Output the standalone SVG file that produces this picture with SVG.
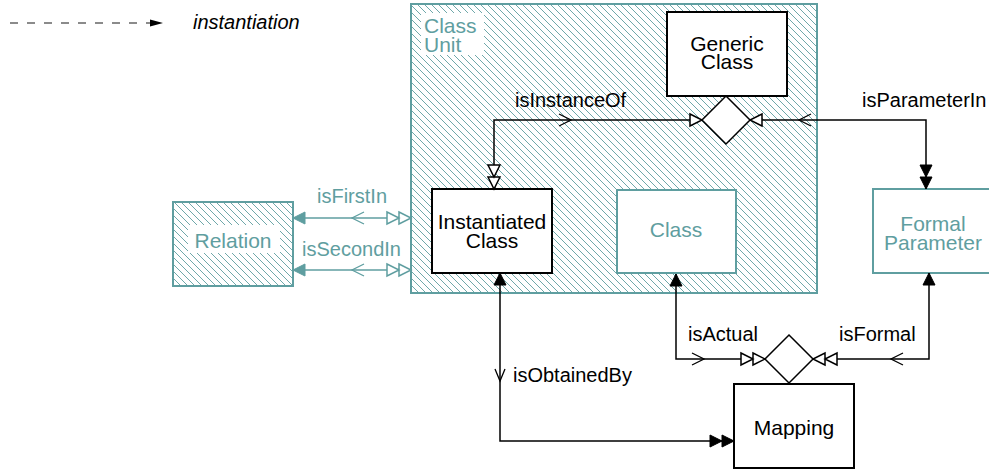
<svg xmlns="http://www.w3.org/2000/svg" width="989" height="473" viewBox="0 0 989 473">
  <defs>
    <style>
      text { font-family: "Liberation Sans", Arial, sans-serif; }
      .node { font-size: 21px; text-anchor: middle; }
      .lbl { font-size: 20px; }
      .dark { fill: #000; }
      .teal { fill: #5f9ea0; }
      .box { fill: #fff; stroke: #000; stroke-width: 2; }
      .tbox { fill: #fff; stroke: #5f9ea0; stroke-width: 2; }
      .hbox { fill: url(#hatch); stroke: #5f9ea0; stroke-width: 2; }
      .wire { fill: none; stroke: #000; stroke-width: 1.5; }
      .twire { fill: none; stroke: #5f9ea0; stroke-width: 1.5; }
      .chev { fill: none; stroke: #000; stroke-width: 1.3; }
      .tchev { fill: none; stroke: #5f9ea0; stroke-width: 1.3; }
      .legend { fill: none; stroke: #666; stroke-width: 1.5; stroke-dasharray: 8 9; }
    </style>
    <pattern id="hatch" patternUnits="userSpaceOnUse" width="7" height="7">
      <rect width="7" height="7" fill="#fff"/>
      <path d="M-1,-1 L8,8 M-1,6 L1,8 M6,-1 L8,1" stroke="#5f9ea0" stroke-width="0.9"/>
    </pattern>
    <!-- association end markers -->
    <marker id="hollow" markerUnits="userSpaceOnUse" orient="auto-start-reverse" overflow="visible" markerWidth="1" markerHeight="1" refX="0" refY="0">
      <path d="M-12,-6 L0,0 L-12,6 Z" fill="#fff" stroke="#000" stroke-width="1.5"/>
    </marker>
    <marker id="hollow2" markerUnits="userSpaceOnUse" orient="auto-start-reverse" overflow="visible" markerWidth="1" markerHeight="1" refX="0" refY="0">
      <path d="M-12,-6 L0,0 L-12,6 Z M-24,-6 L-12,0 L-24,6 Z" fill="#fff" stroke="#000" stroke-width="1.5"/>
    </marker>
    <marker id="solid" markerUnits="userSpaceOnUse" orient="auto-start-reverse" overflow="visible" markerWidth="1" markerHeight="1" refX="0" refY="0">
      <path d="M-12,-6 L0,0 L-12,6 Z" fill="#000" stroke="#000" stroke-width="1"/>
    </marker>
    <marker id="solid2" markerUnits="userSpaceOnUse" orient="auto-start-reverse" overflow="visible" markerWidth="1" markerHeight="1" refX="0" refY="0">
      <path d="M-12,-6 L0,0 L-12,6 Z M-24,-6 L-12,0 L-24,6 Z" fill="#000" stroke="#000" stroke-width="1"/>
    </marker>
    <marker id="tsolid" markerUnits="userSpaceOnUse" orient="auto-start-reverse" overflow="visible" markerWidth="1" markerHeight="1" refX="0" refY="0">
      <path d="M-12,-6 L0,0 L-12,6 Z" fill="#5f9ea0" stroke="#5f9ea0" stroke-width="1"/>
    </marker>
    <marker id="thollow2" markerUnits="userSpaceOnUse" orient="auto-start-reverse" overflow="visible" markerWidth="1" markerHeight="1" refX="0" refY="0">
      <path d="M-12,-6 L0,0 L-12,6 Z M-24,-6 L-12,0 L-24,6 Z" fill="#fff" stroke="#5f9ea0" stroke-width="1.5"/>
    </marker>
    <marker id="legendhead" markerUnits="userSpaceOnUse" orient="auto" overflow="visible" markerWidth="1" markerHeight="1" refX="0" refY="0">
      <path d="M-13,-3.5 L0,0 L-13,3.5 Z" fill="#000"/>
    </marker>
  </defs>

  <!-- legend -->
  <g id="legend">
    <path class="legend" d="M10,23 H163" marker-end="url(#legendhead)"/>
    <text x="193" y="29" class="lbl dark" font-style="italic">instantiation</text>
  </g>

  <!-- container -->
  <g id="class-unit">
    <rect class="hbox" x="411" y="4" width="406" height="289"/>
    <rect x="421" y="13" width="63" height="42" fill="#fff"/>
    <text class="node teal" x="424" y="33" style="text-anchor:start">Class</text>
    <text class="node teal" x="424" y="52" style="text-anchor:start">Unit</text>
  </g>

  <g id="relation">
    <rect class="hbox" x="173" y="202" width="120" height="84"/>
    <rect x="188" y="225" width="92" height="28" fill="#fff"/>
    <text class="node teal" x="233" y="248">Relation</text>
  </g>

  <g id="generic-class">
    <rect class="box" x="667" y="12" width="120" height="84"/>
    <text class="node dark" x="727" y="51">Generic</text>
    <text class="node dark" x="727" y="69">Class</text>
  </g>

  <g id="instantiated-class">
    <rect class="box" x="432" y="189" width="120" height="84"/>
    <text class="node dark" x="492" y="229">Instantiated</text>
    <text class="node dark" x="492" y="248">Class</text>
  </g>

  <g id="class">
    <rect class="tbox" x="617" y="190" width="119" height="83"/>
    <text class="node teal" x="676" y="237">Class</text>
  </g>

  <g id="formal-parameter">
    <rect class="tbox" x="873" y="189" width="120" height="84"/>
    <text class="node teal" x="933" y="231">Formal</text>
    <text class="node teal" x="933" y="250">Parameter</text>
  </g>

  <g id="mapping">
    <rect class="box" x="734" y="384" width="120" height="84"/>
    <text class="node dark" x="794" y="435">Mapping</text>
  </g>

  <!-- connectors -->
  <g id="connectors">
    <!-- isInstanceOf -->
    <path class="wire" d="M702,120 H494 V189" marker-start="url(#hollow)" marker-end="url(#hollow2)"/>
    <path class="chev" d="M559,114 L571,120 L559,126"/>
    <text class="lbl dark" x="515" y="107">isInstanceOf</text>

    <!-- isParameterIn -->
    <path class="wire" d="M750,120 H926 V189" marker-start="url(#hollow)" marker-end="url(#solid2)"/>
    <path class="chev" d="M811,114 L799,120 L811,126"/>
    <text class="lbl dark" x="862" y="107">isParameterIn</text>

    <!-- isActual -->
    <path class="wire" d="M676,274 V359 H765" marker-start="url(#solid)" marker-end="url(#hollow2)"/>
    <path class="chev" d="M692,353 L704,359 L692,365"/>
    <text class="lbl dark" x="688" y="341">isActual</text>

    <!-- isFormal -->
    <path class="wire" d="M929,273 V359 H813" marker-start="url(#solid)" marker-end="url(#hollow2)"/>
    <path class="chev" d="M903,353 L891,359 L903,365"/>
    <text class="lbl dark" x="839" y="341">isFormal</text>

    <!-- isObtainedBy -->
    <path class="wire" d="M500,273 V441 H734" marker-start="url(#solid)" marker-end="url(#solid2)"/>
    <path class="chev" d="M495,369 L500,381 L505,369"/>
    <text class="lbl dark" x="513" y="382">isObtainedBy</text>

    <!-- isFirstIn -->
    <path class="twire" d="M293,218 H411" marker-start="url(#tsolid)" marker-end="url(#thollow2)"/>
    <path class="tchev" d="M364,212 L352,218 L364,224"/>
    <text class="lbl teal" x="317" y="203">isFirstIn</text>

    <!-- isSecondIn -->
    <path class="twire" d="M293,270 H411" marker-start="url(#tsolid)" marker-end="url(#thollow2)"/>
    <path class="tchev" d="M364,264 L352,270 L364,276"/>
    <text class="lbl teal" x="302" y="256">isSecondIn</text>
  </g>

  <!-- association diamonds -->
  <g id="instance-association">
    <polygon points="726,96 750,120 726,144 702,120" fill="#fff" stroke="#000" stroke-width="1.5"/>
  </g>
  <g id="mapping-association">
    <polygon points="789,335 813,359 789,383 765,359" fill="#fff" stroke="#000" stroke-width="1.5"/>
  </g>
</svg>
